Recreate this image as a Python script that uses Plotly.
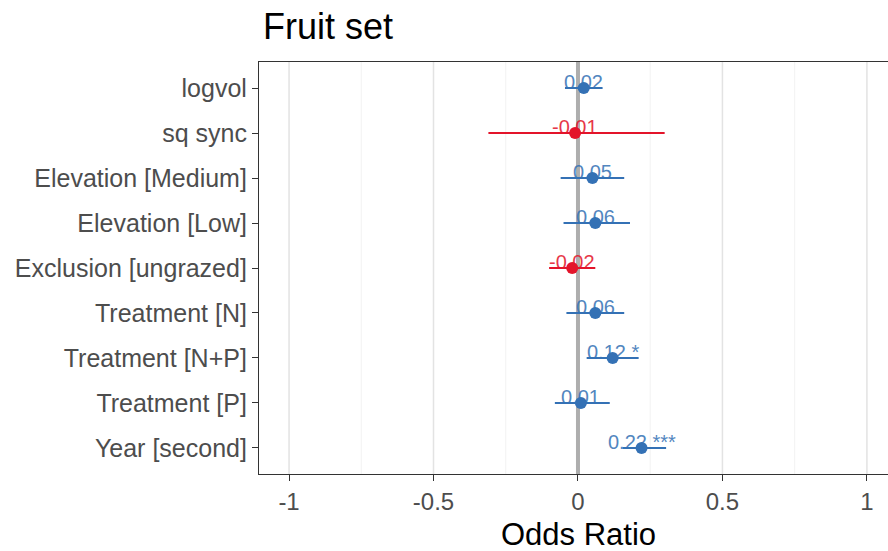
import plotly.graph_objects as go

# Model terms, top to bottom
terms = ["logvol", "sq sync", "Elevation [Medium]", "Elevation [Low]",
         "Exclusion [ungrazed]", "Treatment [N]", "Treatment [N+P]",
         "Treatment [P]", "Year [second]"]
estimates = [0.02, -0.01, 0.05, 0.06, -0.02, 0.06, 0.12, 0.01, 0.22]
ci_low = [-0.045, -0.31, -0.06, -0.05, -0.10, -0.04, 0.03, -0.08, 0.155]
ci_high = [0.085, 0.30, 0.16, 0.18, 0.06, 0.16, 0.21, 0.11, 0.305]
stars = ["", "", "", "", "", "", " *", "", " ***"]

x_ticks = [-1, -0.5, 0, 0.5, 1]
x_tick_text = ["-1", "-0.5", "0", "0.5", "1"]
x_minor = [-0.75, -0.25, 0.25, 0.75]

BLUE = "#3471b5"
RED = "#e3142a"
colors = [BLUE if e >= 0 else RED for e in estimates]

# categorical order: last term at the bottom
order = list(reversed(terms))

fig = go.Figure()

for t, e, lo, hi, c in zip(terms, estimates, ci_low, ci_high, colors):
    fig.add_trace(go.Scatter(
        x=[e], y=[t], mode="markers",
        marker=dict(color=c, size=12, line=dict(width=0)),
        error_x=dict(type="data", symmetric=False, array=[hi - e],
                     arrayminus=[e - lo], color=c, thickness=2, width=0),
        showlegend=False, hoverinfo="skip",
    ))

# value labels above each estimate
for t, e, s, c in zip(terms, estimates, stars, colors):
    fig.add_annotation(
        x=e, y=t, text=f"{e:.2f}{s}", showarrow=False,
        yshift=6, font=dict(size=20, color=c), opacity=0.85,
    )

shapes = []
for v in x_minor:
    shapes.append(dict(type="line", xref="x", yref="paper", x0=v, x1=v, y0=0, y1=1,
                       line=dict(color="#f2f2f2", width=1), layer="below"))
for v in x_ticks:
    if v != 0:
        shapes.append(dict(type="line", xref="x", yref="paper", x0=v, x1=v, y0=0, y1=1,
                           line=dict(color="#e3e3e3", width=1.5), layer="below"))
# reference line at zero
shapes.append(dict(type="line", xref="x", yref="paper", x0=0, x1=0, y0=0, y1=1,
                   line=dict(color="#aeaeae", width=4), layer="below"))

fig.update_layout(
    width=888, height=551,
    margin=dict(l=259, r=0, t=62, b=77),
    paper_bgcolor="white", plot_bgcolor="white",
    font=dict(family="Liberation Sans, Arial, sans-serif"),
    shapes=shapes,
    xaxis=dict(
        range=[-1.104, 1.073], tickvals=x_ticks, ticktext=x_tick_text,
        showgrid=False, zeroline=False, showline=True, linecolor="#333333", linewidth=1.2,
        mirror=True, ticks="outside", ticklen=6, tickcolor="#333333", tickwidth=1.2,
        tickfont=dict(size=24, color="#4d4d4d"),
    ),
    yaxis=dict(
        type="category", categoryorder="array", categoryarray=order,
        range=[-0.58, 8.58], showgrid=False, zeroline=False,
        showline=True, linecolor="#333333", linewidth=1.2,
        ticks="outside", ticklen=6, tickcolor="#333333", tickwidth=1.2,
        tickfont=dict(size=25, color="#4d4d4d"),
    ),
)

# titles positioned relative to the plot area (412 px tall, 629 px wide)
fig.add_annotation(text="Fruit set", xref="paper", yref="paper",
                   x=(261 - 259) / 629, y=1 + (62 - 27) / 412, xanchor="left", yanchor="middle",
                   showarrow=False, font=dict(size=36, color="black"))
fig.add_annotation(text="Odds Ratio", xref="paper", yref="paper",
                   x=(578 - 259) / 629, y=-(534 - 474) / 412, xanchor="center", yanchor="middle",
                   showarrow=False, font=dict(size=31, color="black"))

fig.write_html("out.html")
